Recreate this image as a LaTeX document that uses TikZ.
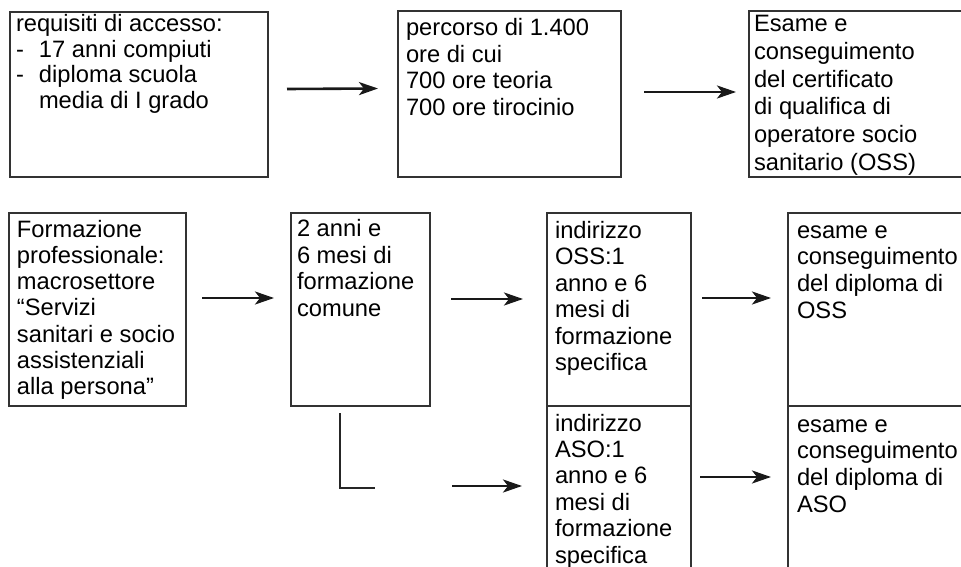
\documentclass[tikz,border=0pt]{standalone}
\usepackage{fontspec}
\setmainfont{Liberation Sans}
\usetikzlibrary{arrows.meta}
\newcommand\boxt[6]{\parbox[t][#2][t]{#1}{\fontsize{23.7pt}{#5}\selectfont\raggedright\setlength\leftskip{#3}\rule{0pt}{#4}\ignorespaces#6}}
\tikzset{
 box/.style={draw=black!80, line width=1.2pt, inner sep=0pt, outer sep=0pt, anchor=north west},
 arr/.style={draw=black!90, line width=2.6pt, -{Stealth[length=19pt,width=13pt,inset=5pt]}},
 lline/.style={draw=black!85, line width=1.6pt}
}
\begin{document}
\begin{tikzpicture}[x=1pt,y=-1pt]
\useasboundingbox (0,0) rectangle (961,567);
\clip (0,0) rectangle (961,567);
\fill[white] (0,0) rectangle (961,567);
% top row
\node[box] (b1) at (10,12) {\boxt{258pt}{165pt}{6pt}{19.5pt}{25.7pt}{requisiti di accesso:\\\makebox[23pt][l]{-}17 anni compiuti\\\makebox[23pt][l]{-}diploma scuola\\\hspace*{23pt}media di I grado}};
\node[box] (b2) at (398,11) {\boxt{223pt}{166pt}{8pt}{24.7pt}{26.5pt}{percorso di 1.400\\ore di cui\\700 ore teoria\\700 ore tirocinio}};
\node[box] (b3) at (749,11) {\boxt{300pt}{166pt}{5pt}{20.7pt}{27.7pt}{Esame e\\conseguimento\\del certificato\\di qualifica di\\operatore socio\\sanitario (OSS)}};
% bottom rows
\node[box] (b4) at (9,213) {\boxt{177pt}{193pt}{8pt}{24pt}{26.3pt}{Formazione\\professionale:\\macrosettore\\“Servizi\\sanitari e socio\\assistenziali\\alla persona”}};
\node[box] (b5) at (291,213) {\boxt{139pt}{193pt}{6pt}{23.5pt}{26.5pt}{2 anni e\\6 mesi di\\formazione\\comune}};
\node[box] (b6) at (547,213) {\boxt{144pt}{193pt}{8pt}{25pt}{26.5pt}{indirizzo\\OSS:1\\anno e 6\\mesi di\\formazione\\specifica}};
\node[box] (b7) at (547,406) {\boxt{144pt}{200pt}{8pt}{25pt}{26.4pt}{indirizzo\\ASO:1\\anno e 6\\mesi di\\formazione\\specifica}};
\node[box] (b8) at (788,213) {\boxt{300pt}{193pt}{9pt}{25pt}{26.8pt}{esame e\\conseguimento\\del diploma di\\OSS}};
\node[box] (b9) at (788,406) {\boxt{300pt}{200pt}{9pt}{26pt}{26.7pt}{esame e\\conseguimento\\del diploma di\\ASO}};
% connectors
\draw[arr] ([xshift=19pt,yshift=5.5pt]b1.east) -- ([xshift=-20pt,yshift=5.5pt]b2.west);
\draw[arr] ([xshift=23pt,yshift=2pt]b2.east) -- ([xshift=-13pt,yshift=2pt]b3.west);
\draw[arr] ([xshift=16pt,yshift=11.5pt]b4.east) -- ([xshift=-17pt,yshift=11.5pt]b5.west);
\draw[arr] ([xshift=21pt,yshift=10.5pt]b5.east) -- ([xshift=-24pt,yshift=10.5pt]b6.west);
\draw[arr] ([xshift=11pt,yshift=11.5pt]b6.east) -- ([xshift=-17pt,yshift=11.5pt]b8.west);
\draw[arr] ([xshift=9pt,yshift=-71pt]b7.north east) -- ([xshift=-17pt,yshift=-71pt]b9.north west);
\coordinate (lend) at (375,488);
\coordinate (astart) at (452,486);
\draw[lline] ([xshift=-20.5pt,yshift=-7pt]b5.south) |- (lend);
\draw[arr] (astart) -- ([xshift=-25pt,yshift=-80pt]b7.north west);
\end{tikzpicture}
\end{document}
